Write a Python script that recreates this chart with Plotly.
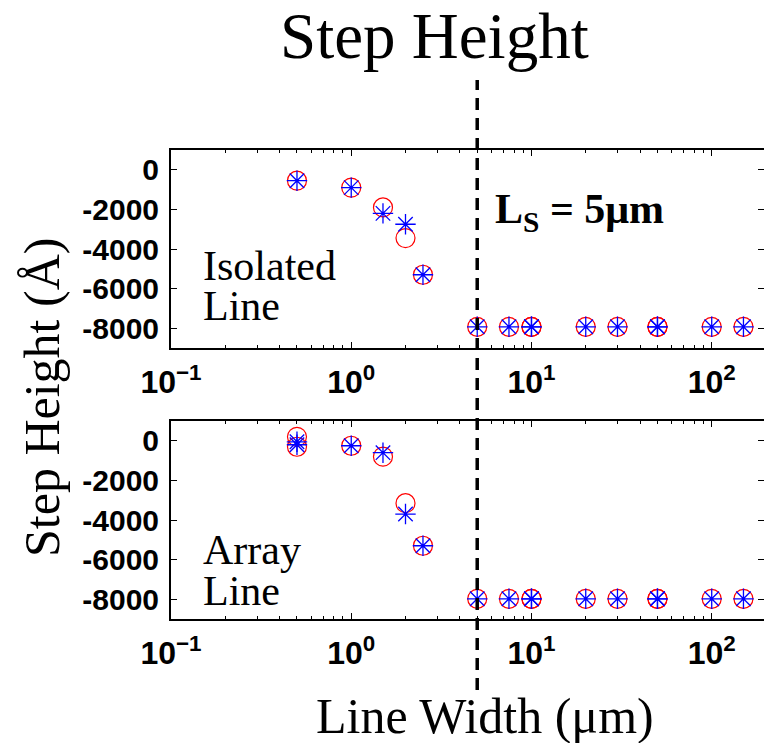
import math
import plotly.graph_objects as go

# Line widths (um) and step heights (Angstrom)
iso_width = [0.5, 1, 1.5, 2, 2.5, 5, 7.5, 10, 10, 20, 30, 50, 50, 100, 150]
iso_circle = [-550, -900, -1900, -3450, -5300, -7930, -7930, -7930, -7930,
              -7930, -7930, -7930, -7930, -7930, -7930]
iso_star = [-550, -900, -2200, -2750, -5300, -7930, -7930, -7930, -7930,
            -7930, -7930, -7930, -7930, -7930, -7930]

arr_width = [0.5, 0.5, 1, 1.5, 2, 2.5, 5, 7.5, 10, 10, 20, 30, 50, 50, 100, 150]
arr_circle = [200, -300, -250, -800, -3150, -5300, -7980, -7980, -7980, -7980,
              -7980, -7980, -7980, -7980, -7980, -7980]
arr_star = [-50, -200, -250, -600, -3700, -5300, -7980, -7980, -7980, -7980,
            -7980, -7980, -7980, -7980, -7980, -7980]

LS_WIDTH = 5  # critical line width, um

x_ticks = [0.1, 1, 10, 100]
x_ticktext = ["10<sup>\u22121</sup>", "10<sup>0</sup>", "10<sup>1</sup>", "10<sup>2</sup>"]
y_ticks = [0, -2000, -4000, -6000, -8000]
y_ticktext = ["0", "-2000", "-4000", "-6000", "-8000"]

W, H = 764, 743
SERIF = "Liberation Serif, Times New Roman, serif"
SANS = "Liberation Sans, Arial, Helvetica, sans-serif"

minor_vals = [m * 10 ** e for e in (-1, 0, 1, 2) for m in range(2, 10) if m * 10 ** e < 200]

fig = go.Figure()

def add_panel(xs, circ, star, xa, ya):
    fig.add_trace(go.Scatter(
        x=xs, y=circ, mode="markers", xaxis=xa, yaxis=ya, showlegend=False,
        marker=dict(symbol="circle-open", size=19, color="red", line=dict(width=1.2, color="red"))))
    fig.add_trace(go.Scatter(
        x=xs, y=star, mode="markers", xaxis=xa, yaxis=ya, showlegend=False,
        marker=dict(symbol="asterisk-open", size=17, color="blue", line=dict(width=1.3, color="blue"))))

add_panel(iso_width, iso_circle, iso_star, "x", "y")
add_panel(arr_width, arr_circle, arr_star, "x2", "y2")

xrange_log = [-1, math.log10(195)]

def xaxis(anchor):
    return dict(
        type="log", range=xrange_log, domain=[171 / W, 1.0], anchor=anchor, automargin=False,
        tickvals=x_ticks, ticktext=x_ticktext, ticks="inside", ticklen=6, tickwidth=1.2,
        tickcolor="black", showline=True, linecolor="black", linewidth=2, mirror="allticks",
        showgrid=False, zeroline=False, ticklabelstandoff=5,
        tickfont=dict(family=SANS, size=32, color="black", weight="bold"),
        minor=dict(tickvals=minor_vals, ticks="inside", ticklen=3, tickwidth=1, tickcolor="black",
                   showgrid=False),
    )

def yaxis(anchor, top_px, bot_px):
    return dict(
        range=[-9000, 1000], domain=[1 - bot_px / H, 1 - top_px / H], anchor=anchor,
        automargin=False,
        tickvals=y_ticks, ticktext=y_ticktext, ticks="inside", ticklen=6, tickwidth=1.2,
        tickcolor="black", showline=True, linecolor="black", linewidth=2, mirror="allticks",
        showgrid=False, zeroline=False, ticklabelstandoff=4,
        tickfont=dict(family=SANS, size=30, color="black", weight="bold"),
    )

fig.update_layout(
    width=W, height=H, autosize=False,
    margin=dict(l=0, r=0, t=0, b=0, pad=0, autoexpand=False),
    paper_bgcolor="white", plot_bgcolor="white",
    xaxis=xaxis("y"), yaxis=yaxis("x", 150, 348),
    xaxis2=xaxis("y2"), yaxis2=yaxis("x2", 421, 619),
)

# Dashed marker at the critical line width spanning both panels
fig.add_shape(type="line", xref="x", yref="paper", x0=LS_WIDTH, x1=LS_WIDTH,
              y0=1 - 690 / H, y1=1 - 80 / H,
              line=dict(color="black", width=3.5, dash="12px,8px"))

def txt(text, xpx, ypx, size, xanchor="center", yanchor="middle", bold=False, angle=0, family=SERIF):
    fig.add_annotation(text=text, xref="paper", yref="paper", x=xpx / W, y=1 - ypx / H,
                       xanchor=xanchor, yanchor=yanchor, showarrow=False, textangle=angle,
                       font=dict(family=family, size=size, color="black",
                                 weight="bold" if bold else "normal"))

txt("Step Height", 435, 36, 65)
txt("Line Width (\u03bcm)", 485, 716, 50)
txt("Step Height (\u00c5)", 42, 398, 50, angle=-90)
txt("Isolated", 201, 266, 42, xanchor="left")
txt("Line", 201, 306, 42, xanchor="left")
txt("Array", 201, 550, 42, xanchor="left")
txt("Line", 201, 591, 42, xanchor="left")
txt("L<sub>S</sub> = 5\u03bcm", 493, 212, 42, xanchor="left", bold=True)

fig.write_html("out.html")
